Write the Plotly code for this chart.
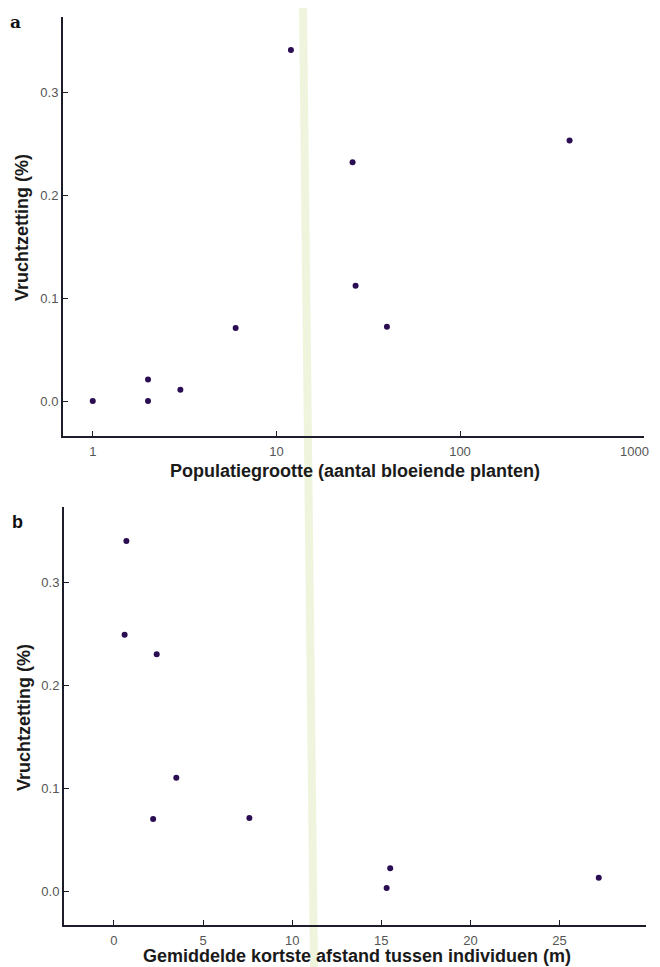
import plotly.graph_objects as go

# Panel a: population size vs fruit set
pop_size = [1, 2, 2, 3, 6, 12, 26, 27, 40, 395]
fruit_set_a = [0.0, 0.021, 0.0, 0.011, 0.071, 0.341, 0.232, 0.112, 0.072, 0.253]

# Panel b: mean nearest-neighbour distance vs fruit set
distance = [0.7, 0.6, 2.4, 3.5, 2.2, 7.6, 15.5, 15.3, 27.2]
fruit_set_b = [0.340, 0.249, 0.230, 0.110, 0.070, 0.071, 0.022, 0.003, 0.013]

xticks_a = [1, 10, 100, 1000]
xticklabels_a = ["1", "10", "100", "1000"]
xticks_b = [0, 5, 10, 15, 20, 25]
xticklabels_b = ["0", "5", "10", "15", "20", "25"]
yticks = [0.0, 0.1, 0.2, 0.3]
yticklabels = ["0.0", "0.1", "0.2", "0.3"]

# page has 8px body margin; figure coordinates = page coordinates - 8
W, H = 644, 959
OFF = 8

marker = dict(color="#2a0d52", size=6)
axis_col = "#1c1c2a"
tick_font = dict(family="Liberation Sans, Arial, sans-serif", size=13, color="#555555")
title_font = dict(family="Liberation Sans, Arial, sans-serif", size=18, color="#1a1a1a")

def fx(x):
    return (x - OFF) / W

def fy(y):
    return 1 - (y - OFF) / H

fig = go.Figure()
fig.add_trace(go.Scatter(x=pop_size, y=fruit_set_a, mode="markers", marker=marker,
                         xaxis="x", yaxis="y", showlegend=False))
fig.add_trace(go.Scatter(x=distance, y=fruit_set_b, mode="markers", marker=marker,
                         xaxis="x2", yaxis="y2", showlegend=False))

common = dict(showline=True, linewidth=2, linecolor=axis_col, ticks="inside",
              ticklen=5, tickwidth=1, tickcolor=axis_col, showgrid=False,
              zeroline=False, tickfont=tick_font, mirror=False)

# the last log tick label sits at the right page edge; draw it as an annotation
# so it stays inside the page
ticktext_a = xticklabels_a[:-1] + [""]

fig.update_layout(
    width=W, height=H,
    margin=dict(l=0, r=0, t=0, b=0),
    paper_bgcolor="white", plot_bgcolor="white",
    xaxis=dict(common, type="log", range=[-0.162, 3.002],
               domain=[fx(63), fx(644)], anchor="y",
               tickvals=xticks_a, ticktext=ticktext_a, ticklabelstandoff=2),
    yaxis=dict(common, range=[-0.034, 0.373],
               domain=[fy(436), fy(17)], anchor="x",
               tickvals=yticks, ticktext=yticklabels, ticklabelstandoff=0),
    xaxis2=dict(common, range=[-2.8, 29.85],
                domain=[fx(64), fx(646)], anchor="y2",
                tickvals=xticks_b, ticktext=xticklabels_b, ticklabelstandoff=2),
    yaxis2=dict(common, range=[-0.033, 0.373],
                domain=[fy(925), fy(507)], anchor="x2",
                tickvals=yticks, ticktext=yticklabels, ticklabelstandoff=0),
)

fig.add_annotation(text=xticklabels_a[-1], x=3.0, xref="x", y=fy(451), yref="paper",
                   showarrow=False, font=tick_font, xanchor="right", yanchor="middle",
                   xshift=7)

annotations = [
    ("a", 16, 22, 0, dict(family="DejaVu Serif, Liberation Serif, serif", size=17, color="#111")),
    ("b", 17, 522, 0, dict(family="Liberation Sans, Arial, sans-serif", size=18, color="#111")),
    ("Populatiegrootte (aantal bloeiende planten)", 355, 471, 0, title_font),
    ("Gemiddelde kortste afstand tussen individuen (m)", 357, 956, 0, title_font),
    ("Vruchtzetting (%)", 22, 228, -90, title_font),
    ("Vruchtzetting (%)", 24, 718, -90, title_font),
]
for text, x, y, ang, font in annotations:
    fig.add_annotation(text="<b>%s</b>" % text, x=fx(x), y=fy(y), xref="paper", yref="paper",
                       showarrow=False, textangle=ang, font=font,
                       xanchor="center", yanchor="middle")

# faint green scanner stripe (page fold)
fig.add_shape(type="path", xref="paper", yref="paper", layer="below",
              path="M %f,%f L %f,%f L %f,%f L %f,%f Z" % (
                  fx(299), 1.0, fx(307), 1.0, fx(318), 0.0, fx(310), 0.0),
              fillcolor="rgba(214,228,170,0.40)", line=dict(width=0))

fig.write_html("out.html")
